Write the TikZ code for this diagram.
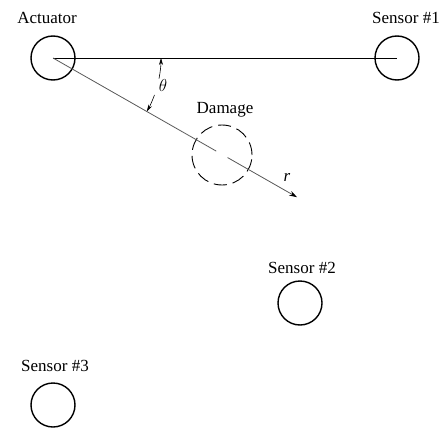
\documentclass[tikz,border=0pt]{standalone}
\usepackage{fontspec}
\setmainfont{Liberation Serif}
\usetikzlibrary{arrows.meta,calc}
\begin{document}
\begin{tikzpicture}[x=1pt,y=1pt,
  sensorcirc/.style={circle,draw=black,line width=1.4pt,minimum size=44pt,inner sep=0pt},
  dmgcirc/.style={circle,draw=black,line width=0.9pt,dash pattern=on 13pt off 6pt,minimum size=60pt,inner sep=0pt},
  lbl/.style={font=\fontsize{17}{19}\selectfont,inner sep=0pt}]
\useasboundingbox (0,0) rectangle (446,429);
% circles (y = 429 - pixel y)
\node[sensorcirc] (act) at (53,371) {};
\node[sensorcirc] (s1) at (397,371) {};
\node[sensorcirc] (s2) at (300,126) {};
\node[sensorcirc] (s3) at (53,24) {};
\node[dmgcirc] (dmg) at (222,274) {};
% labels
\node[lbl] (lact) at (47,411) {Actuator};
\node[lbl] (ls1) at (406,411) {Sensor \#1};
\node[lbl] (ls2) at (302,161) {Sensor \#2};
\node[lbl] (ls3) at (55,63) {Sensor \#3};
\node[lbl] (ldmg) at (225,319) {Damage};
% lines
\draw[line width=0.9pt] (act.center) -- (s1.center);
\coordinate (g1) at ($(act.center)+(-29.7:188pt)$);
\coordinate (g2) at ($(act.center)+(-29.7:201pt)$);
\coordinate (tip) at ($(act.center)+(-29.7:281pt)$);
\draw[gray!70!black,line width=0.8pt] (act.center) -- (g1);
\draw[gray!70!black,line width=0.8pt,-{Stealth[length=8pt,width=5pt,black]}] (g2) -- (tip);
\node[lbl,font=\fontsize{17}{19}\selectfont\itshape] (lr) at (287,252) {r};
% theta
\draw[line width=0.6pt,-{Stealth[length=7pt,width=4pt]}] ($(act.center)+(-11:108pt)$) arc[start angle=-11,end angle=0,radius=108pt];
\draw[line width=0.6pt,-{Stealth[length=7pt,width=4pt]}] ($(act.center)+(-20:108pt)$) arc[start angle=-20,end angle=-29.7,radius=108pt];
\node[lbl] (lth) at (163,343) {$\theta$};
\end{tikzpicture}
\end{document}
